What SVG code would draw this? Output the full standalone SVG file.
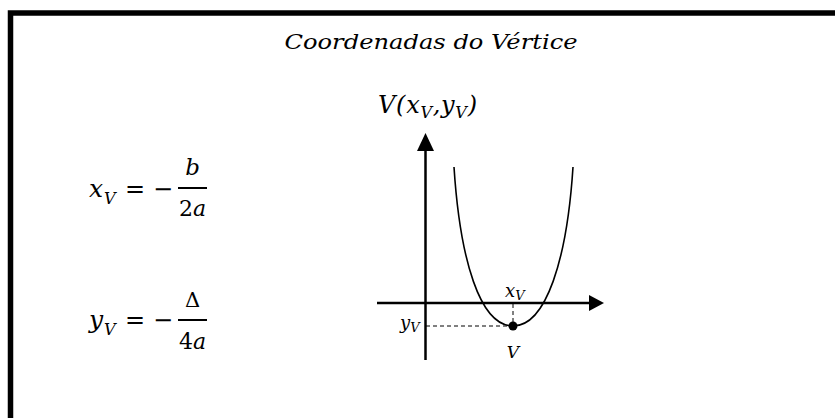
<svg xmlns="http://www.w3.org/2000/svg" width="835" height="418" viewBox="0 0 835 418">
<style>
.m{font-family:'DejaVu Serif',serif;font-style:italic;fill:#000}
.u{font-family:'DejaVu Serif',serif;font-style:normal;fill:#000}
.t{font-family:'DejaVu Serif',serif;font-style:italic;fill:#000}
.ax{stroke:#000;stroke-width:2.5;fill:none}
.dash{stroke:#000;stroke-width:1;stroke-dasharray:4 3;fill:none}
</style>
<rect x="0" y="0" width="835" height="418" fill="#fff"/>
<g id="frame"><rect x="10.5" y="13" width="840" height="420" fill="none" stroke="#000" stroke-width="5.5"/></g>
<g id="title"><text x="431" y="49" text-anchor="middle" class="t" font-size="21" textLength="293" lengthAdjust="spacingAndGlyphs">Coordenadas do Vértice</text></g>
<g id="formula-x">
<text x="89" y="197" class="m" font-size="25">x</text>
<text x="104" y="204" class="m" font-size="16">V</text>
<text x="135" y="197" text-anchor="middle" class="u" font-size="24">=</text>
<text x="163" y="197" text-anchor="middle" class="u" font-size="24">−</text>
<line x1="178" y1="188" x2="207" y2="188" stroke="#000" stroke-width="2"/>
<text x="192.5" y="175" text-anchor="middle" class="m" font-size="23">b</text>
<text x="192.5" y="216" text-anchor="middle" class="u" font-size="22">2<tspan class="m">a</tspan></text>
</g>
<g id="formula-y">
<text x="89" y="328" class="m" font-size="25">y</text>
<text x="104" y="335" class="m" font-size="16">V</text>
<text x="135" y="328" text-anchor="middle" class="u" font-size="24">=</text>
<text x="163" y="328" text-anchor="middle" class="u" font-size="24">−</text>
<line x1="178" y1="320" x2="207" y2="320" stroke="#000" stroke-width="2"/>
<text x="192.5" y="307" text-anchor="middle" class="u" font-size="21">Δ</text>
<text x="192.5" y="349" text-anchor="middle" class="u" font-size="22">4<tspan class="m">a</tspan></text>
</g>
<g id="vertex-label"><text x="378" y="113" class="m" font-size="24" textLength="99" lengthAdjust="spacing">V(x<tspan font-size="16" dy="5">V</tspan><tspan dy="-5">,y</tspan><tspan font-size="16" dy="5">V</tspan><tspan dy="-5">)</tspan></text></g>
<g id="connectors">
<line class="ax" x1="425.5" y1="360" x2="425.5" y2="148"/>
<polygon points="425.5,133 417,151 434,151" fill="#000"/>
<line class="ax" x1="377" y1="303" x2="592" y2="303"/>
<polygon points="604,303 589,295 589,311" fill="#000"/>
<path d="M454,167 C460,260 480,326 513,326 C546,326 567,260 573,167" fill="none" stroke="#000" stroke-width="1.6"/>
<line class="dash" x1="426" y1="326" x2="513" y2="326"/>
<line class="dash" x1="513" y1="304" x2="513" y2="326"/>
</g>
<g id="vertex"><circle cx="513" cy="326" r="4.5" fill="#000"/></g>
<g id="axis-labels">
<text x="505" y="297" class="m" font-size="18">x<tspan font-size="13" dy="3">V</tspan></text>
<text x="400" y="329" class="m" font-size="18">y<tspan font-size="13" dy="3">V</tspan></text>
<text x="513" y="358" text-anchor="middle" class="m" font-size="17">V</text>
</g>
</svg>
